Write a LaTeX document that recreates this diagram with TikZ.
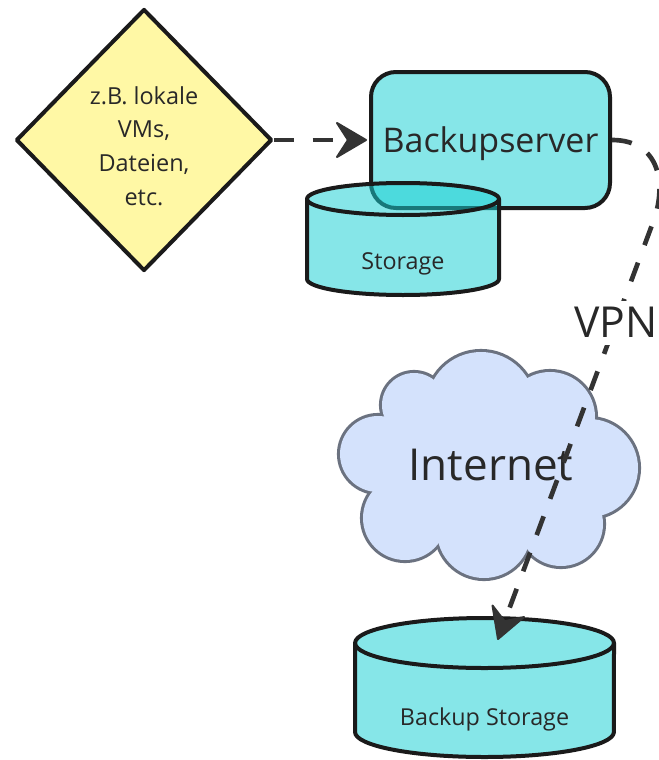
\documentclass[tikz,border=0pt]{standalone}
\usepackage{fontspec}
\setmainfont{Open Sans}
\usetikzlibrary{shapes.geometric,arrows.meta}
\definecolor{txt}{RGB}{40,40,40}
\definecolor{edgec}{RGB}{51,51,51}
\definecolor{yel}{RGB}{255,248,165}
\definecolor{cyanbase}{RGB}{23,207,211}
\definecolor{cloudfill}{RGB}{212,226,252}
\definecolor{cloudline}{RGB}{107,114,128}
\definecolor{bord}{RGB}{26,26,26}
\begin{document}
\begin{tikzpicture}[x=0.75pt,y=-0.75pt,
  shapeborder/.style={draw=bord, line width=3pt, line join=round},
  cyanfill/.style={fill=cyanbase, fill opacity=0.52},
  lbl/.style={text=txt, inner sep=0pt, anchor=base},
  conn/.style={draw=edgec, line width=3.5pt, dash pattern=on 15pt off 14pt, shorten >=12pt},
  tiphead/.style={fill=edgec, draw=edgec, line width=1.5pt, line join=round},
  puffline/.style={draw=cloudline, line width=4.6pt},
  pufffill/.style={fill=cloudfill},
]
\useasboundingbox (0,0) rectangle (659,760);

% source diamond
\node[diamond, shapeborder, fill=yel, minimum width=192pt, minimum height=196.5pt, inner sep=0pt] (src) at (144,140) {};
\node[lbl, anchor=center, align=center, font=\fontsize{17.6}{25.2}\selectfont] (srctext) at (144,146) {z.B. lokale\\VMs,\\Dateien,\\etc.};

% backup server
\node[rectangle, rounded corners=18.75pt, shapeborder, cyanfill, minimum width=179.25pt, minimum height=102pt, inner sep=0pt] (bs) at (490.5,140) {};
\node[lbl, font=\fontsize{25.5}{30}\selectfont] (bstext) at (490.5,152) {Backupserver};

% local storage cylinder
\path[cyanfill] (307,199) -- (307,279) arc[start angle=180, end angle=360, x radius=72pt, y radius=12pt]
  -- (499,199) arc[start angle=0, end angle=180, x radius=72pt, y radius=12pt] -- cycle;
\draw[shapeborder] (307,199) -- (307,279) arc[start angle=180, end angle=360, x radius=72pt, y radius=12pt]
  -- (499,199) arc[start angle=0, end angle=180, x radius=72pt, y radius=12pt] -- cycle;
\draw[shapeborder] (307,199) arc[start angle=180, end angle=360, x radius=72pt, y radius=12pt];
\node[lbl, font=\fontsize{17.5}{21}\selectfont] (sttext) at (403,269) {Storage};

% internet cloud (union of puffs)
\foreach \cx/\cy/\r in {481/406/40.5, 414/405/24, 378/454/28.5, 405/518/31.5, 484/531/35.25, 561/524/31.5, 589/468/36.75, 550/417/33.75}
  \draw[puffline] (\cx,\cy) circle[radius=\r pt];
\fill[pufffill] (481,406) -- (550,417) -- (589,468) -- (561,524) -- (484,531) -- (405,518) -- (378,454) -- (414,405) -- cycle;
\foreach \cx/\cy/\r in {481/406/40.5, 414/405/24, 378/454/28.5, 405/518/31.5, 484/531/35.25, 561/524/31.5, 589/468/36.75, 550/417/33.75}
  \fill[pufffill] (\cx,\cy) circle[radius=\r pt];
\node[lbl, font=\fontsize{33}{40}\selectfont] (net) at (491,480) {Internet};

% backup storage cylinder
\path[cyanfill] (355,643) -- (355,732) arc[start angle=180, end angle=360, x radius=97.1pt, y radius=18.75pt]
  -- (614,643) arc[start angle=0, end angle=180, x radius=97.1pt, y radius=18.75pt] -- cycle;
\draw[shapeborder] (355,643) -- (355,732) arc[start angle=180, end angle=360, x radius=97.1pt, y radius=18.75pt]
  -- (614,643) arc[start angle=0, end angle=180, x radius=97.1pt, y radius=18.75pt] -- cycle;
\draw[shapeborder] (355,643) arc[start angle=180, end angle=360, x radius=97.1pt, y radius=18.75pt];
\node[lbl, font=\fontsize{17.5}{21}\selectfont] (bktext) at (484.5,725) {Backup Storage};
\coordinate (bstop) at (498,639);

% connectors
\draw[conn] (src.east) -- (bs.west);
\draw[tiphead] (bs.west) +(-3,0) -- +(-32,-17) -- +(-21,0) -- +(-32,17) -- cycle;

\draw[conn] (bs.east) .. controls (660,140) and (668,185) .. (652,225)
  -- node[pos=0.236, fill=white, text=txt, inner sep=5pt, font=\fontsize{32}{38}\selectfont] (vpn) {VPN} (bstop);
\draw[tiphead] (bstop) -- +(26,-22) -- +(6.6,-17.8) -- +(-5.5,-33.5) -- cycle;
\end{tikzpicture}
\end{document}
